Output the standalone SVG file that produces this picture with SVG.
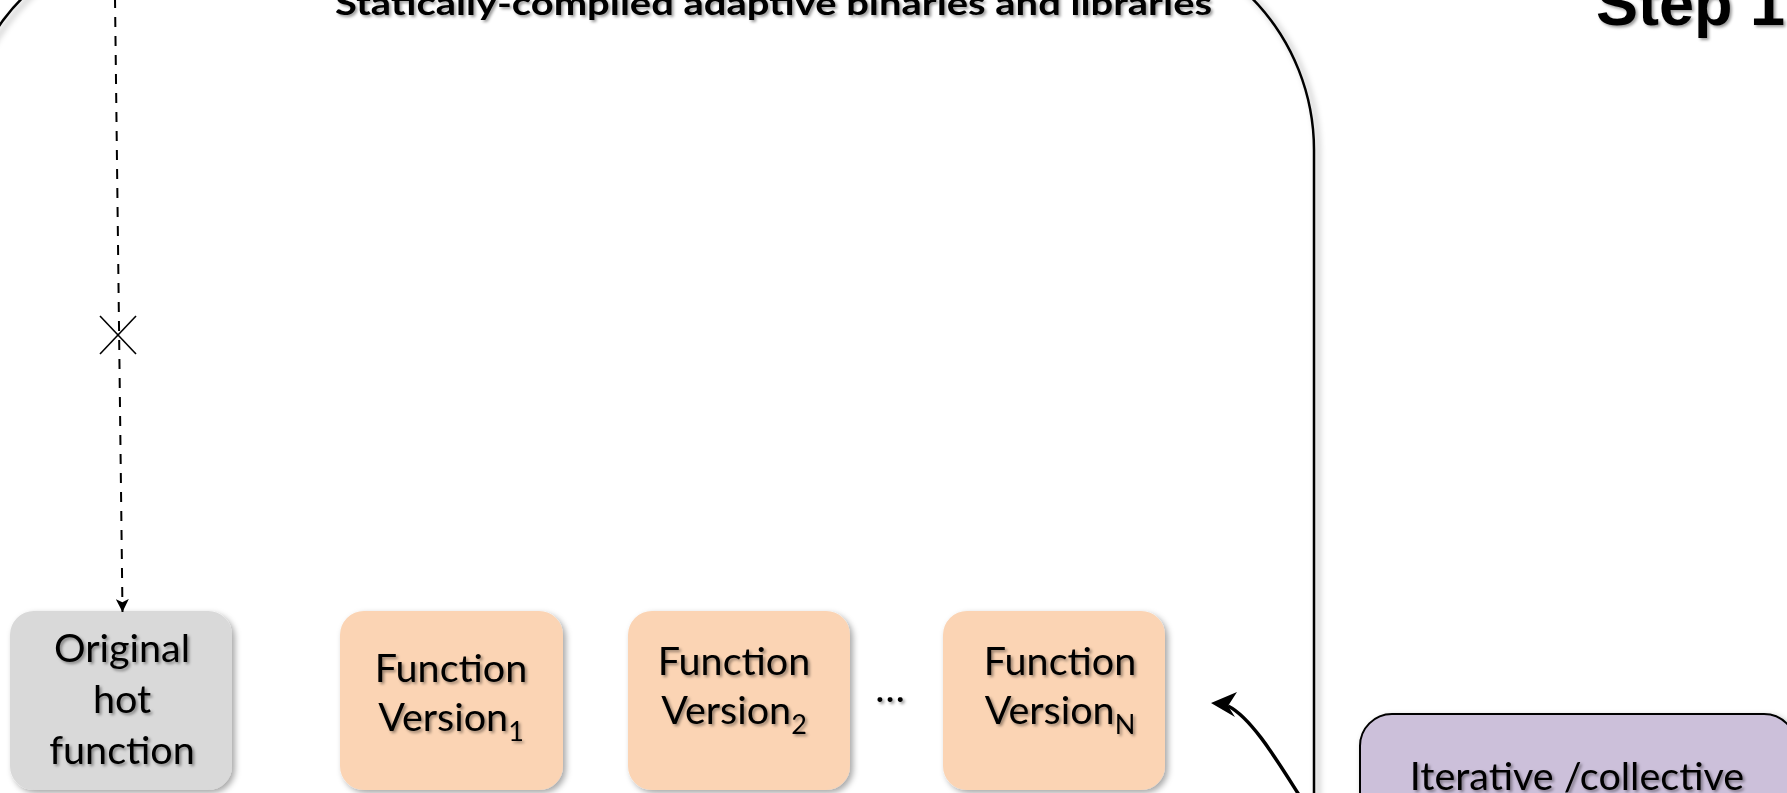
<svg xmlns="http://www.w3.org/2000/svg" width="1787" height="793" viewBox="0 0 1787 793">
<style>
.lbl{font-family:Lato,"Open Sans","Liberation Sans",sans-serif;font-size:39.5px;fill:#000;text-anchor:middle;filter:url(#tsh)}
.sub{font-size:27px}
.box{stroke:none;filter:url(#bsh)}
.gray{fill:#d9d9d9}
.peach{fill:#fbd4b4}
.purple{fill:#ccc0da;stroke:#000;stroke-width:2}
.conn{fill:none;stroke:#000}
</style>
<defs>
<filter id="tsh" x="-10%" y="-30%" width="130%" height="170%">
<feDropShadow dx="2" dy="2" stdDeviation="1.4" flood-color="#000" flood-opacity="0.4"/>
</filter>
<filter id="bsh" x="-10%" y="-10%" width="130%" height="130%">
<feDropShadow dx="3" dy="3" stdDeviation="3" flood-color="#000" flood-opacity="0.35"/>
</filter>
<filter id="csh" x="-5%" y="-5%" width="115%" height="115%">
<feDropShadow dx="4" dy="3" stdDeviation="3" flood-color="#000" flood-opacity="0.35"/>
</filter>
<marker id="ah" viewBox="0 0 12 12" refX="12" refY="6" markerUnits="userSpaceOnUse" markerWidth="13" markerHeight="13" orient="auto">
<path d="M0,0 L12,6 L0,12 L3,6 z" fill="#000"/>
</marker>
</defs>
<rect width="1787" height="793" fill="#fff"/>

<g id="container">
<path d="M -40 900 V 150 A 217 217 0 0 1 177 -67 H 1097 A 217 217 0 0 1 1314 150 V 900" fill="none" stroke="#000" stroke-width="2.5" filter="url(#csh)"/>
</g>

<g id="title">
<text x="335" y="15" font-family="Lato,'Open Sans','Liberation Sans',sans-serif" font-weight="bold" font-size="32" textLength="877" lengthAdjust="spacingAndGlyphs" filter="url(#tsh)">Statically-compiled adaptive binaries and libraries</text>
</g>

<g id="step1">
<text x="1596" y="25" font-family="'Liberation Sans',Arial,sans-serif" font-weight="bold" font-size="63" filter="url(#tsh)">Step 1</text>
</g>

<g id="original">
<rect class="box gray" x="10" y="611" width="222" height="179" rx="24"/>
<text class="lbl" x="122" y="662">Original</text>
<text class="lbl" x="122" y="713">hot</text>
<text class="lbl" x="122" y="764">function</text>
</g>

<g id="v1">
<rect class="box peach" x="340" y="611" width="223" height="179" rx="24"/>
<text class="lbl" x="451" y="682">Function</text>
<text class="lbl" x="451" y="731">Version<tspan class="sub" dy="10">1</tspan></text>
</g>

<g id="v2">
<rect class="box peach" x="628" y="611" width="222" height="179" rx="24"/>
<text class="lbl" x="734" y="675">Function</text>
<text class="lbl" x="734" y="724">Version<tspan class="sub" dy="10">2</tspan></text>
</g>

<g id="ellipsis">
<text class="lbl" x="890" y="702" font-size="26">…</text>
</g>

<g id="vn">
<rect class="box peach" x="943" y="611" width="222" height="179" rx="24"/>
<text class="lbl" x="1060" y="675">Function</text>
<text class="lbl" x="1060" y="724">Version<tspan class="sub" dy="10">N</tspan></text>
</g>

<g id="iterative">
<rect class="purple" x="1360" y="714" width="436" height="140" rx="32" filter="url(#bsh)"/>
<text class="lbl" x="1577" y="790">Iterative /collective</text>
</g>

<g id="connectors">
<line class="conn" x1="115" y1="-2" x2="122.5" y2="612" stroke-width="2" stroke-dasharray="10 9" marker-end="url(#ah)"/>
<line class="conn" x1="100" y1="316" x2="136" y2="354" stroke-width="1.6"/>
<line class="conn" x1="136" y1="316" x2="100" y2="354" stroke-width="1.6"/>
<path class="conn" d="M 1301 798 C 1278 762, 1252 718, 1228 706" stroke-width="3.5"/>
<path d="M 1211 703 L 1237 692 L 1228 706 L 1235 717 Z" fill="#000"/>
</g>
</svg>
